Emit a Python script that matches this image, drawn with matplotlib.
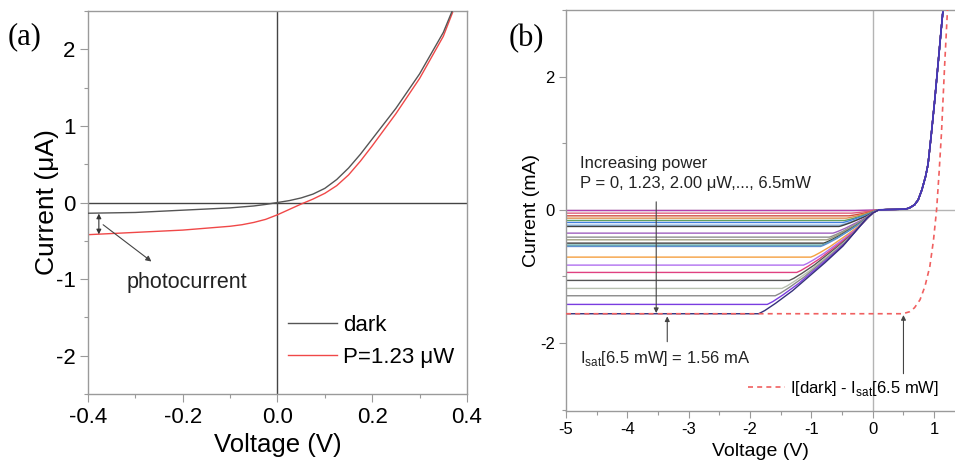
import matplotlib
matplotlib.use('Agg')
import matplotlib.pyplot as plt
from matplotlib.ticker import MultipleLocator

plt.rcParams['font.family'] = ['Liberation Sans', 'DejaVu Sans']
plt.rcParams['mathtext.fontset'] = 'custom'
plt.rcParams['mathtext.rm'] = 'Liberation Sans'

# (a) single device, dark vs. 1.23 uW illumination (current in uA)
va_dark = [-0.4, -0.3, -0.2, -0.1, -0.05, -0.025, 0.0, 0.025, 0.05, 0.075, 0.1, 0.125,
           0.15, 0.175, 0.2, 0.25, 0.3, 0.35, 0.37]
ia_dark = [-0.14, -0.13, -0.10, -0.07, -0.045, -0.025, 0.0, 0.025, 0.06, 0.11, 0.185, 0.3,
           0.45, 0.63, 0.83, 1.23, 1.68, 2.22, 2.52]
va_light = [-0.4, -0.3, -0.2, -0.1, -0.075, -0.05, -0.025, 0.0, 0.025, 0.05, 0.075, 0.1,
            0.125, 0.15, 0.175, 0.2, 0.25, 0.3, 0.35, 0.372]
ia_light = [-0.42, -0.39, -0.36, -0.31, -0.29, -0.26, -0.22, -0.16, -0.09, -0.02, 0.045, 0.12,
            0.22, 0.36, 0.54, 0.74, 1.16, 1.62, 2.17, 2.52]

# (b) power series, saturation current (mA) and the voltage where each curve levels off
isat_b = [0.01, 0.05, 0.09, 0.125, 0.16, 0.19, 0.23, 0.25, 0.35, 0.41, 0.45,
          0.50, 0.53, 0.55, 0.71, 0.83, 0.94, 1.06, 1.18, 1.29, 1.42, 1.56]
vknee_b = [-0.31, -0.35, -0.39, -0.43, -0.46, -0.49, -0.53, -0.55, -0.65, -0.71, -0.75,
           -0.80, -0.83, -0.85, -1.01, -1.13, -1.24, -1.36, -1.48, -1.59, -1.72, -1.86]
colors_b = ['#b040b0', '#e06080', '#d05040', '#e09050', '#60a060', '#4080e0', '#80b0e0',
            '#404040', '#a060c0', '#909090', '#a0a080', '#404040', '#50a0a0', '#6090d0',
            '#f5a040', '#b070f0', '#e04080', '#555555', '#b8c0b0', '#8a8a8a', '#7a3ce0',
            '#35307a']
# shape of the bend between saturation and the turn-on point (fraction of span, fraction of Isat)
bend_u = [0.0, 0.05, 0.1, 0.16, 0.3, 0.45, 0.58, 0.72, 0.86, 0.95, 1.0]
bend_h = [0.0, 0.03, 0.08, 0.16, 0.35, 0.51, 0.64, 0.78, 0.90, 0.97, 1.0]
v_turn = 0.1

# forward branch, shared by all curves
v_fwd = [0.1, 0.3, 0.5, 0.55, 0.6, 0.68, 0.74, 0.8, 0.86, 0.9, 0.95, 1.01, 1.06, 1.11, 1.15]
i_fwd = [0.0, 0.005, 0.01, 0.015, 0.03, 0.075, 0.15, 0.3, 0.5, 0.68, 1.1, 1.65, 2.15, 2.66, 3.05]

# dark curve shifted by the 6.5 mW saturation current
v_shift = [-5.0, 0.49, 0.6, 0.68, 0.77, 0.85, 0.93, 0.99, 1.04, 1.08, 1.12, 1.17, 1.22]
i_shift = [-1.56, -1.56, -1.53, -1.47, -1.35, -1.15, -0.85, -0.45, 0.0, 0.55, 1.16, 2.15, 3.05]

fig = plt.figure(figsize=(9.55, 4.61), dpi=100)
ax1 = fig.add_axes([0.0921, 0.1453, 0.3969, 0.8308])
ax2 = fig.add_axes([0.5927, 0.1085, 0.4073, 0.8698])

frame = '#9a9a9a'

# ---- panel (a)
ax1.axhline(0, color='#444444', lw=1.0, zorder=1)
ax1.axvline(0, color='#444444', lw=1.0, zorder=1)
ax1.plot(va_dark, ia_dark, color='#555555', lw=1.0, label='dark', zorder=3)
ax1.plot(va_light, ia_light, color='#f04848', lw=1.0, label='P=1.23 μW', zorder=2)
ax1.set_xlim(-0.4, 0.4)
ax1.set_ylim(-2.5, 2.5)
ax1.xaxis.set_minor_locator(MultipleLocator(0.1))
ax1.yaxis.set_minor_locator(MultipleLocator(0.5))
ax1.set_xticks([-0.4, -0.2, 0.0, 0.2, 0.4])
ax1.set_xticklabels(['-0.4', '-0.2', '0.0', '0.2', '0.4'])
ax1.set_yticks([-2, -1, 0, 1, 2])
ax1.set_yticklabels(['-2', '-1', '0', '1', '2'])
ax1.tick_params(which='major', direction='out', length=6, width=0.8, color=frame,
                labelsize=16, pad=3)
ax1.tick_params(which='minor', direction='out', length=3, width=0.8, color=frame)
for sp in ax1.spines.values():
    sp.set_color(frame)
    sp.set_linewidth(1.0)
ax1.set_xlabel('Voltage (V)', fontsize=18.5, labelpad=4)
ax1.set_ylabel('Current (μA)', fontsize=19, labelpad=-2.5)

ax1.annotate('', xy=(-0.377, -0.415), xytext=(-0.377, -0.145),
             arrowprops=dict(arrowstyle='<|-|>', color='#333333', lw=0.8, mutation_scale=7,
                             shrinkA=0, shrinkB=0))
ax1.annotate('', xy=(-0.266, -0.77), xytext=(-0.368, -0.29),
             arrowprops=dict(arrowstyle='-|>', color='#444444', lw=0.8, mutation_scale=8,
                             shrinkA=0, shrinkB=0))
ax1.text(-0.318, -1.04, 'photocurrent', fontsize=15.5, va='center', ha='left', color='#222222')
ax1.legend(loc='upper left', bbox_to_anchor=(0.528, 0.206), frameon=False, fontsize=16,
           handlelength=2.2, handletextpad=0.27, labelspacing=0.5, borderpad=0,
           borderaxespad=0)

# ---- panel (b)
ax2.axhline(0, color='#b4b4b4', lw=1.0, zorder=1)
ax2.axvline(0, color='#b4b4b4', lw=1.0, zorder=1)
for isat, vk, col in zip(isat_b, vknee_b, colors_b):
    span = v_turn - vk
    vv = [-5.0] + [v_turn - u * span for u in reversed(bend_u)] + v_fwd[1:]
    ii = [-isat] + [-isat * h for h in reversed(bend_h)] + i_fwd[1:]
    ax2.plot(vv, ii, color=col, lw=1.0, zorder=2)
ax2.plot(v_fwd, i_fwd, color='#4638b8', lw=1.2, zorder=2)
ax2.plot(v_shift, i_shift, color='#f06060', lw=1.2, ls=(0, (3, 2.5)), zorder=3,
         label='I[dark] - I$_{\\rm sat}$[6.5 mW]')
ax2.set_xlim(-5, 1.34)
ax2.set_ylim(-3.02, 3.0)
ax2.xaxis.set_minor_locator(MultipleLocator(0.5))
ax2.set_xticks([-5, -4, -3, -2, -1, 0, 1])
ax2.set_xticklabels(['-5', '-4', '-3', '-2', '-1', '0', '1'])
ax2.set_yticks([-2, 0, 2])
ax2.set_yticklabels(['-2', '0', '2'])
ax2.yaxis.set_minor_locator(MultipleLocator(1))
ax2.tick_params(which='major', direction='out', length=5, width=0.8, color=frame,
                labelsize=12, pad=3)
ax2.tick_params(which='minor', direction='out', length=3, width=0.8, color=frame)
for sp in ax2.spines.values():
    sp.set_color(frame)
    sp.set_linewidth(1.0)
ax2.spines['right'].set_visible(False)
ax2.set_xlabel('Voltage (V)', fontsize=14, labelpad=4)
ax2.set_ylabel('Current (mA)', fontsize=14, labelpad=0)

ax2.text(-4.77, 0.7, 'Increasing power', fontsize=12, va='center', ha='left', color='#222222')
ax2.text(-4.77, 0.39, 'P = 0, 1.23, 2.00 μW,..., 6.5mW', fontsize=12, va='center', ha='left',
         color='#222222')
ax2.text(-4.77, -2.23, 'I$_{\\rm sat}$[6.5 mW] = 1.56 mA', fontsize=12, va='center', ha='left',
         color='#222222')
arrow_kw = dict(arrowstyle='-|>', color='#444444', lw=0.8, mutation_scale=7, shrinkA=0, shrinkB=0)
ax2.annotate('', xy=(-3.53, -1.55), xytext=(-3.53, 0.12), arrowprops=arrow_kw)
ax2.annotate('', xy=(-3.35, -1.6), xytext=(-3.35, -1.98), arrowprops=arrow_kw)
ax2.annotate('', xy=(0.5, -1.58), xytext=(0.5, -2.46), arrowprops=arrow_kw)
ax2.legend(loc='upper left', bbox_to_anchor=(0.468, 0.08), frameon=False, fontsize=12,
           handlelength=2.2, handletextpad=0.3, borderpad=0, borderaxespad=0)

fig.text(0.008, 0.92, '(a)', family='Liberation Serif', fontsize=22, va='center', ha='left')
fig.text(0.533, 0.917, '(b)', family='Liberation Serif', fontsize=22, va='center', ha='left')

fig.savefig('out.png', dpi=100)
